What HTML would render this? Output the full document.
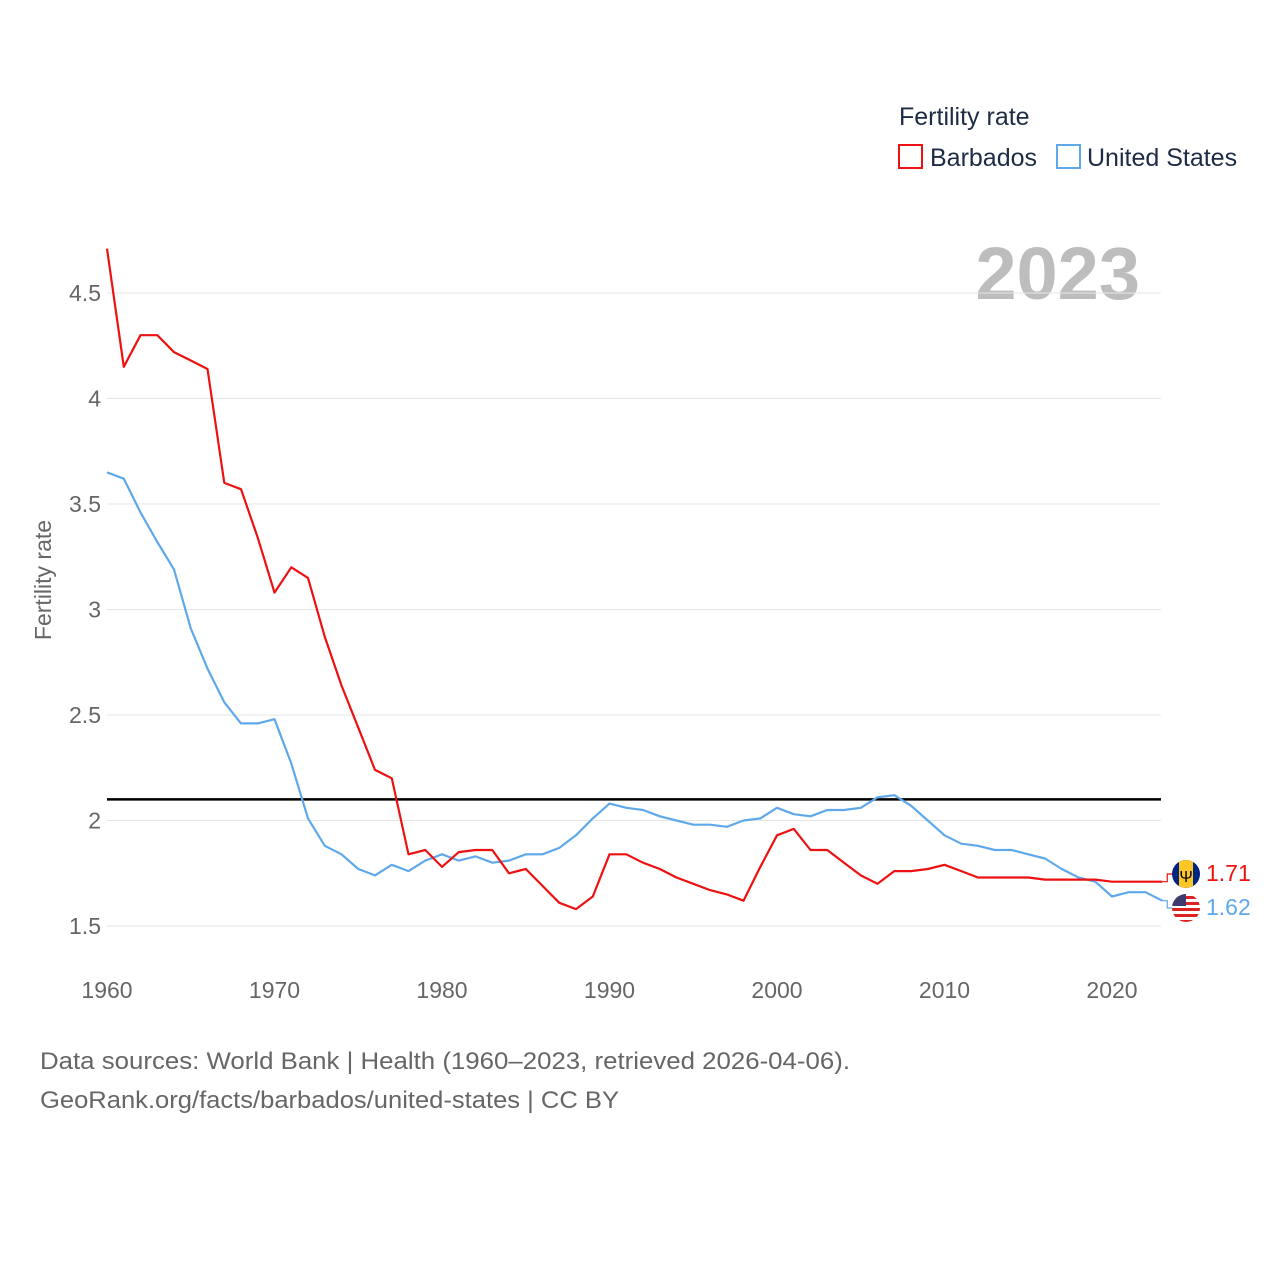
<!DOCTYPE html>
<html><head><meta charset="utf-8">
<style>
body{margin:0;background:#fff;font-family:"Liberation Sans",sans-serif;}
svg text{font-family:"Liberation Sans",sans-serif;}
</style></head>
<body>
<svg id="chart" width="1280" height="1280" xmlns="http://www.w3.org/2000/svg">
<defs>
<clipPath id="c1"><circle cx="1186" cy="874" r="14"/></clipPath>
<clipPath id="c2"><circle cx="1186" cy="908" r="14"/></clipPath>
</defs>
<text x="899" y="125" font-size="25" fill="#1d2b44">Fertility rate</text>
<g>
<rect x="899" y="145" width="23" height="23" fill="none" stroke="#ee1111" stroke-width="2"/>
<text x="930" y="166" font-size="25" fill="#1d2b44">Barbados</text></g>
<g>
<rect x="1057" y="145" width="23" height="23" fill="none" stroke="#5fa8ea" stroke-width="2"/>
<text x="1087" y="166" font-size="25" fill="#1d2b44">United States</text></g>
<text x="1140" y="299" font-size="74" font-weight="bold" fill="#bdbdbd" text-anchor="end">2023</text>
<text transform="translate(51,580) rotate(-90)" font-size="23" fill="#666" text-anchor="middle">Fertility rate</text>
<g id="grid"></g><g id="yticks"></g><g id="xticks"></g>
<line x1="107" x2="1161" y1="799.4" y2="799.4" stroke="#000" stroke-width="2.5"/>
<g id="series"></g>
<g>
<g clip-path="url(#c1)">
<rect x="1172" y="860" width="28" height="28" fill="#00267f"/><rect x="1179" y="860" width="14" height="28" fill="#ffc726"/>
<text x="1186" y="882" font-size="16" text-anchor="middle" fill="#000">Ψ</text></g>
<g clip-path="url(#c2)">
<rect x="1172" y="894" width="28" height="28" fill="#fff"/>
<rect x="1172" y="896" width="28" height="3" fill="#d22"/><rect x="1172" y="902" width="28" height="3" fill="#d22"/><rect x="1172" y="908" width="28" height="3" fill="#d22"/><rect x="1172" y="914" width="28" height="3" fill="#d22"/><rect x="1172" y="920" width="28" height="3" fill="#d22"/>
<rect x="1172" y="894" width="14" height="12" fill="#3c3b6e"/></g>
<text x="1206" y="881" font-size="23" fill="#ee1111">1.71</text>
<text x="1206" y="915" font-size="23" fill="#5fa8ea">1.62</text>
</g>
<text x="40" y="1069" font-size="24" fill="#666" textLength="810" lengthAdjust="spacingAndGlyphs">Data sources: World Bank | Health (1960–2023, retrieved 2026-04-06).</text>
<text x="40" y="1108" font-size="24" fill="#666" textLength="579" lengthAdjust="spacingAndGlyphs">GeoRank.org/facts/barbados/united-states | CC BY</text>
</svg>
<script>
const years=[];for(let y=1960;y<=2023;y++)years.push(y);
const barbados=[4.71,4.15,4.30,4.30,4.22,4.18,4.14,3.60,3.57,3.34,3.08,3.20,3.15,2.87,2.64,2.44,2.24,2.20,1.84,1.86,1.78,1.85,1.86,1.86,1.75,1.77,1.69,1.61,1.58,1.64,1.84,1.84,1.80,1.77,1.73,1.70,1.67,1.65,1.62,1.78,1.93,1.96,1.86,1.86,1.80,1.74,1.70,1.76,1.76,1.77,1.79,1.76,1.73,1.73,1.73,1.73,1.72,1.72,1.72,1.72,1.71,1.71,1.71,1.71];
const unitedStates=[3.65,3.62,3.46,3.32,3.19,2.91,2.72,2.56,2.46,2.46,2.48,2.27,2.01,1.88,1.84,1.77,1.74,1.79,1.76,1.81,1.84,1.81,1.83,1.80,1.81,1.84,1.84,1.87,1.93,2.01,2.08,2.06,2.05,2.02,2.00,1.98,1.98,1.97,2.00,2.01,2.06,2.03,2.02,2.05,2.05,2.06,2.11,2.12,2.07,2.00,1.93,1.89,1.88,1.86,1.86,1.84,1.82,1.77,1.73,1.71,1.64,1.66,1.66,1.62];
const yTicks=[1.5,2,2.5,3,3.5,4,4.5];
const xTicks=[1960,1970,1980,1990,2000,2010,2020];
const X=y=>107+(y-1960)*16.75;
const Y=v=>926-(v-1.5)*211;
const NS="http://www.w3.org/2000/svg";
function mk(t,a,p){const e=document.createElementNS(NS,t);for(const k in a)e.setAttribute(k,a[k]);p.appendChild(e);return e;}
const grid=document.getElementById('grid'),yt=document.getElementById('yticks'),xt=document.getElementById('xticks'),ser=document.getElementById('series');
yTicks.forEach(v=>{
const l=mk('line',{x1:107,x2:1161,y1:Y(v),y2:Y(v),stroke:'#e6e6e6','stroke-width':1},grid);


const t=mk('text',{x:101,y:Y(v)+8,'font-size':23,fill:'#666','text-anchor':'end'},yt);t.textContent=v;


});
xTicks.forEach(v=>{
const t=mk('text',{x:X(v),y:998,'font-size':23,fill:'#666','text-anchor':'middle'},xt);t.textContent=v;


});
function line(vals,color,name){
const d=vals.map((v,i)=>(i?'L':'M')+X(years[i]).toFixed(1)+','+Y(v).toFixed(1)).join(' ');
const p=mk('path',{d:d,fill:'none',stroke:color,'stroke-width':2.2,'stroke-linejoin':'round'},ser);


const last=vals[vals.length-1],ly=name.startsWith('barb')?874:908;
const c=mk('path',{d:`M${X(2023)},${Y(last)} h5 V${ly} h8`,fill:'none',stroke:color,'stroke-width':1.2},ser);


}
line(unitedStates,'#5fa8ea','united-states-line');
line(barbados,'#ee1111','barbados-line');
</script>
</body></html>
